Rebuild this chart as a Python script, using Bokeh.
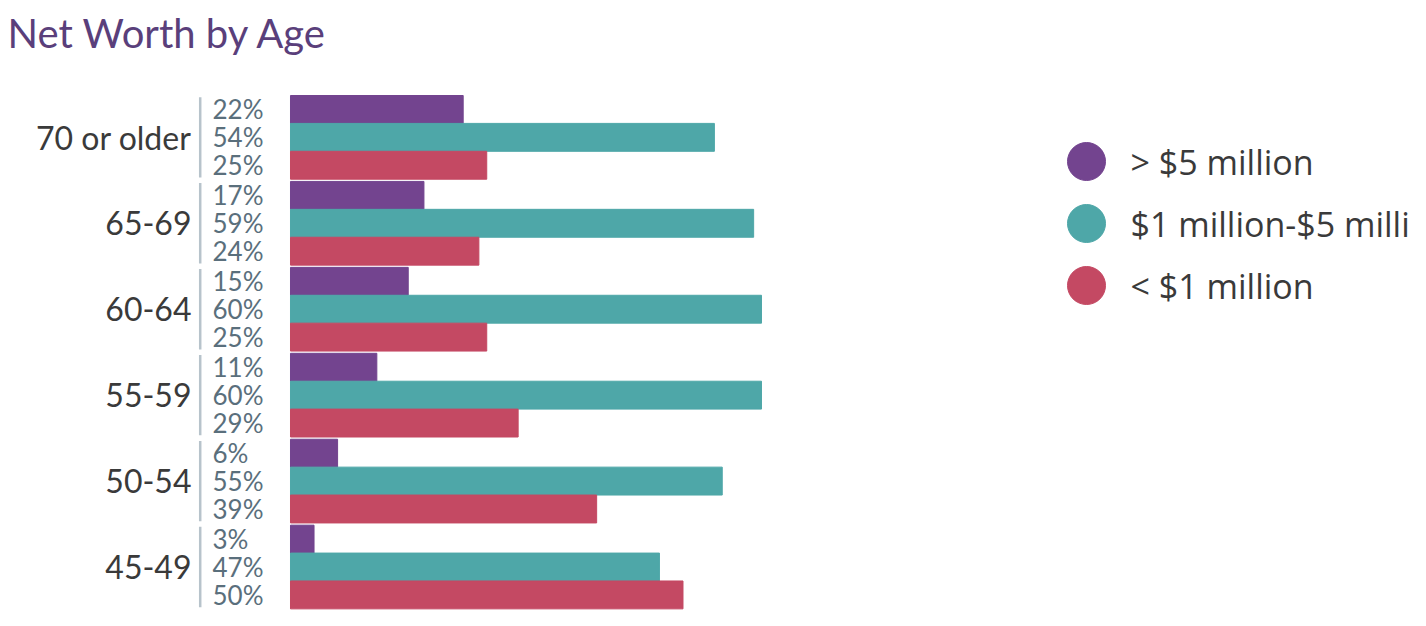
from bokeh.plotting import figure
from bokeh.models import Range1d, ColumnDataSource, Label
from bokeh.layouts import row
from bokeh.core.properties import value
from bokeh.embed import file_html
from bokeh.resources import INLINE

# ---- data ----
title_text = "Net Worth by Age"
ages = ["70 or older", "65-69", "60-64", "55-59", "50-54", "45-49"]
over_5m = [22, 17, 15, 11, 6, 3]
m1_to_5m = [54, 59, 60, 60, 55, 47]
under_1m = [25, 24, 25, 29, 39, 50]
series_names = ["> $5 million", "$1 million-$5 milli", "< $1 million"]
series_colors = ["#73448f", "#4ea7a8", "#c44963"]

# ---- layout constants ----
PITCH = 3.08          # group pitch in bar units
LABEL_FONT = "Lato"
LEG_FONT = "Open Sans"
X0, X1 = -36.94, 96.56      # x range (percent)
Y_TOP = -3.405              # y range top (bar units)
Y_BOT = 18.53               # y range bottom

series_vals = [over_5m, m1_to_5m, under_1m]

ys, vals, cols, labels = [], [], [], []
for gi, age in enumerate(ages):
    for si in range(3):
        ys.append(gi * PITCH + si + 0.5)
        v = series_vals[si][gi]
        vals.append(v)
        cols.append(series_colors[si])
        labels.append(f"{v}%")
bars = ColumnDataSource(dict(y=ys, v=vals, c=cols, lab=labels))

grp = ColumnDataSource(dict(
    y=[gi * PITCH + 1.5 for gi in range(len(ages))],
    y0=[gi * PITCH + 0.06 for gi in range(len(ages))],
    y1=[gi * PITCH + 2.94 for gi in range(len(ages))],
    name=ages,
))

p = figure(width=1048, height=612, output_backend="svg", toolbar_location=None,
           x_range=Range1d(X0, X1), y_range=Range1d(Y_BOT, Y_TOP),
           x_axis_location=None, y_axis_location=None,
           min_border_left=0, min_border_right=0, min_border_bottom=0, min_border_top=0)
p.grid.visible = False
p.outline_line_color = None
p.background_fill_color = "white"
p.border_fill_color = "white"

title = Label(text=title_text, x=X0 + 0.9, y=-2.24,
              text_font="Lato", text_font_size="40px", text_color="#5a3f7b",
              text_align="left", text_baseline="alphabetic")
p.add_layout(title)

p.hbar(y="y", left=0, right="v", height=1.0, color="c", source=bars)

p.text(x=0, y="y", text="lab", source=bars, x_offset=-78,
       text_font=value(LABEL_FONT), text_font_size="26px", text_color="#5a6f7c",
       text_align="left", text_baseline="middle")

p.text(x=0, y="y", text="name", source=grp, x_offset=-99,
       text_font=value(LABEL_FONT), text_font_size="32px", text_color="#3a3a3a",
       text_align="right", text_baseline="middle")

p.segment(x0=-11.5, x1=-11.5, y0="y0", y1="y1", source=grp,
          line_color="#b7c3cb", line_width=2.5)

# ---- legend panel ----
leg_src = ColumnDataSource(dict(
    y=list(range(len(series_names))), name=series_names, c=series_colors))
leg = figure(width=376, height=612, output_backend="svg", toolbar_location=None,
             x_range=Range1d(0, 376), y_range=Range1d(7.274, -2.597),
             x_axis_location=None, y_axis_location=None,
             min_border_left=0, min_border_right=0, min_border_bottom=0, min_border_top=0)
leg.grid.visible = False
leg.outline_line_color = None
leg.scatter(x=38, y="y", size=38, marker="circle", color="c", source=leg_src)
leg.text(x=38, y="y", text="name", source=leg_src, x_offset=44,
         text_font=value(LEG_FONT), text_font_size="34px", text_color="#3a3a3a",
         text_align="left", text_baseline="middle")

layout = row(p, leg, spacing=0)
open("out.html", "w").write(file_html(layout, INLINE))
